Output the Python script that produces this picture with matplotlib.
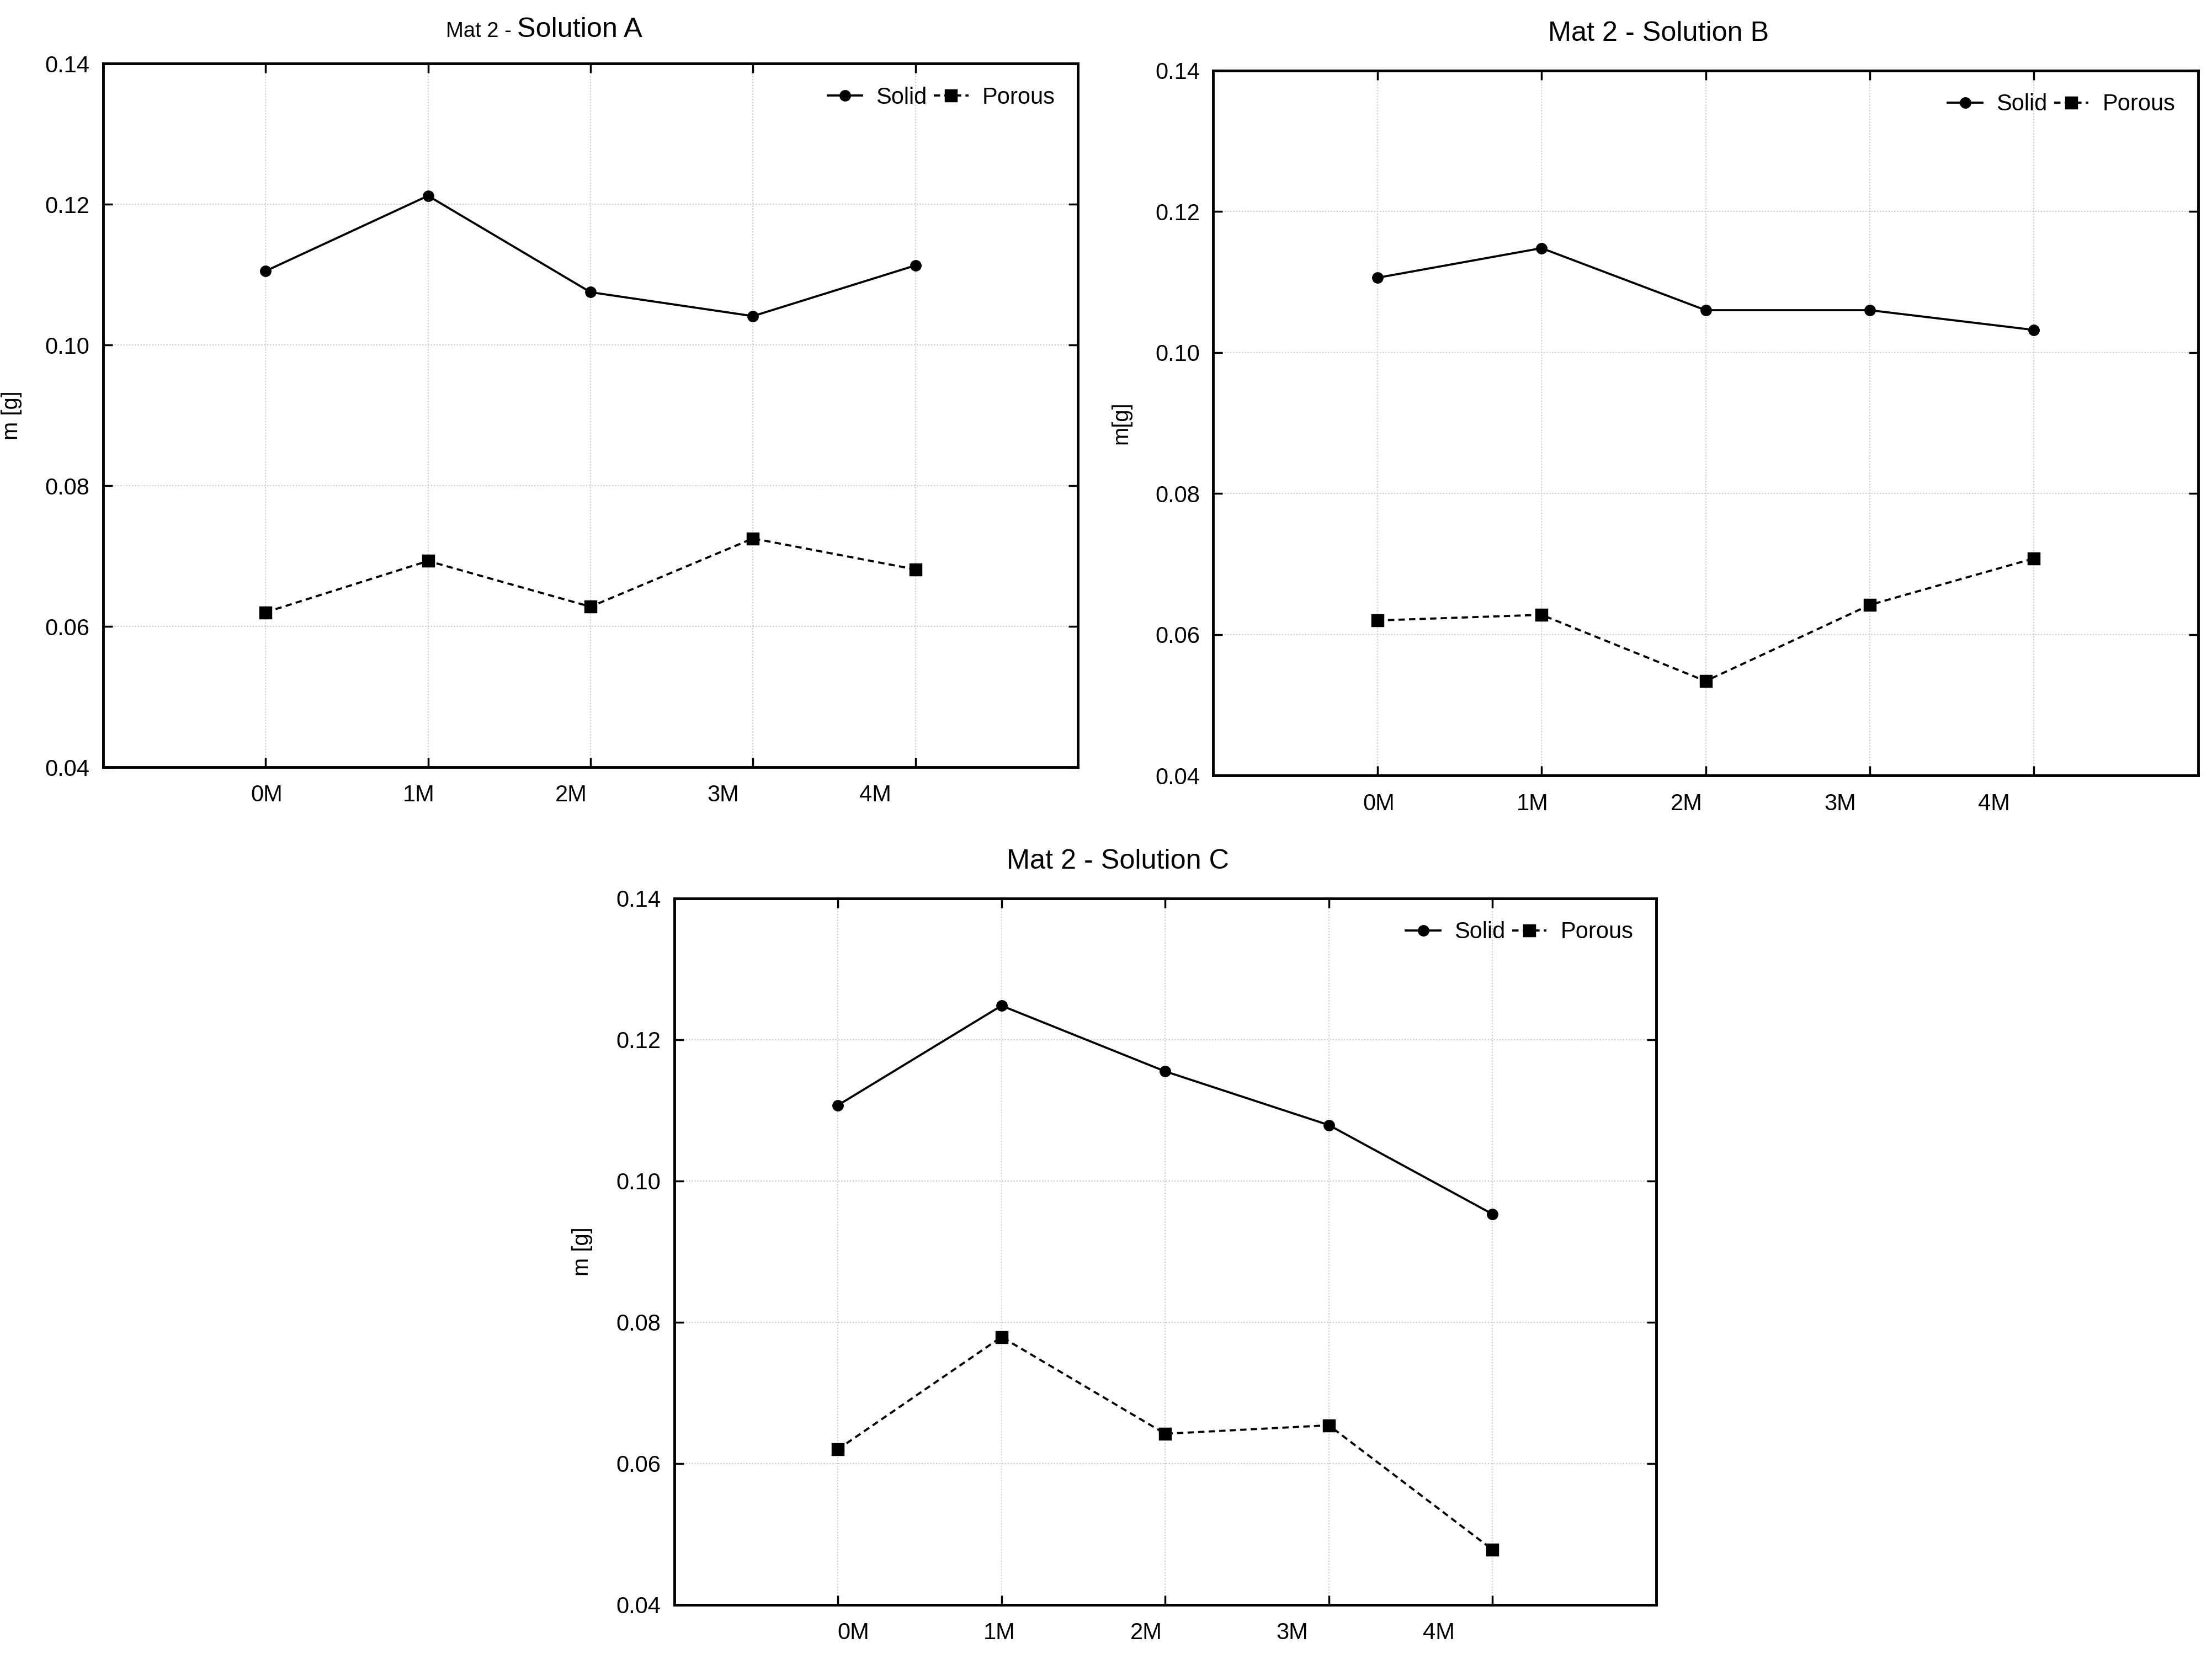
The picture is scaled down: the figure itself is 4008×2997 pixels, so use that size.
import matplotlib
matplotlib.use("Agg")
import matplotlib.pyplot as plt
from matplotlib.transforms import ScaledTranslation

plt.rcParams['font.family'] = ['Liberation Sans Narrow', 'Liberation Sans', 'DejaVu Sans']

months = ["0M", "1M", "2M", "3M", "4M"]

solid_A = [0.1105, 0.1212, 0.1075, 0.1041, 0.1113]
porous_A = [0.0620, 0.0693, 0.0628, 0.0725, 0.0681]

solid_B = [0.1106, 0.1148, 0.1060, 0.1060, 0.1032]
porous_B = [0.0620, 0.0628, 0.0534, 0.0642, 0.0708]

solid_C = [0.1107, 0.1248, 0.1155, 0.1079, 0.0953]
porous_C = [0.0620, 0.0779, 0.0642, 0.0654, 0.0478]

yticks = [0.04, 0.06, 0.08, 0.10, 0.12, 0.14]

fig = plt.figure(figsize=(16.032, 11.988), dpi=250)
fig.patch.set_facecolor('white')

axA = fig.add_axes([0.0466, 0.5362, 0.4407, 0.4254])
axB = fig.add_axes([0.5485, 0.5311, 0.4452, 0.4263])
axC = fig.add_axes([0.3048, 0.0298, 0.4439, 0.4271])

# (axes, solid, porous, ylabel, label shift start [pt], label shift step [pt])
panels = [
    (axA, solid_A, porous_A, "m [g]", 0.7, -5.4),
    (axB, solid_B, porous_B, "m[g]", 0.7, -5.4),
    (axC, solid_C, porous_C, "m [g]", 8.0, -9.0),
]

for ax, s, p, ylab, sh0, shd in panels:
    x = list(range(len(months)))
    ax.plot(x, s, color='black', lw=1.1, marker='o', ms=5, label='Solid')
    ax.plot(x, p, color='black', lw=1.1, ls=(0, (3, 2)), marker='s', ms=5.5, label='Porous')
    ax.set_xlim(-1, 5)
    ax.set_ylim(0.04, 0.14)
    ax.set_xticks(x)
    ax.set_xticklabels(months)
    ax.set_yticks(yticks)
    ax.set_yticklabels([f"{v:.2f}" for v in yticks])
    ax.grid(True, color='#c8c8c8', ls=(0, (1, 1.5)), lw=0.6)
    ax.set_axisbelow(True)
    for sp in ax.spines.values():
        sp.set_linewidth(1.4)
        sp.set_color('black')
    ax.tick_params(direction='in', top=True, right=True, length=5, width=1.0,
                   labelsize=12, colors='black')
    ax.tick_params(axis='x', pad=9)
    ax.tick_params(axis='y', pad=7)
    for i, tk in enumerate(ax.xaxis.get_major_ticks()):
        tk.label1.set_transform(tk.label1.get_transform() +
                                ScaledTranslation((sh0 + shd * i) / 72.0, 0, fig.dpi_scale_trans))
    ax.set_ylabel(ylab, fontsize=11.5)
    ax.yaxis.set_label_coords(-0.083, 0.5)
    ax.legend(loc='upper right', bbox_to_anchor=(1.0, 1.0), ncol=2, frameon=False,
              fontsize=12, handlelength=1.5, handletextpad=0.6, columnspacing=0.3,
              borderaxespad=0.6)

# Titles
t1 = axA.text(0.425, 1.038, "Mat 2 - ", transform=axA.transAxes, ha='right', va='baseline',
              fontsize=11)
axA.annotate("Solution A", xy=(1, 1.038), xycoords=(t1, axA.transAxes),
             ha='left', va='baseline', fontsize=14.5)
axB.text(0.452, 1.052, "Mat 2 - Solution B", transform=axB.transAxes, ha='center', va='center',
         fontsize=14.5)
axC.text(0.452, 1.052, "Mat 2 - Solution C", transform=axC.transAxes, ha='center', va='center',
         fontsize=14.5)

fig.savefig("out.png", dpi=250, facecolor='white')
